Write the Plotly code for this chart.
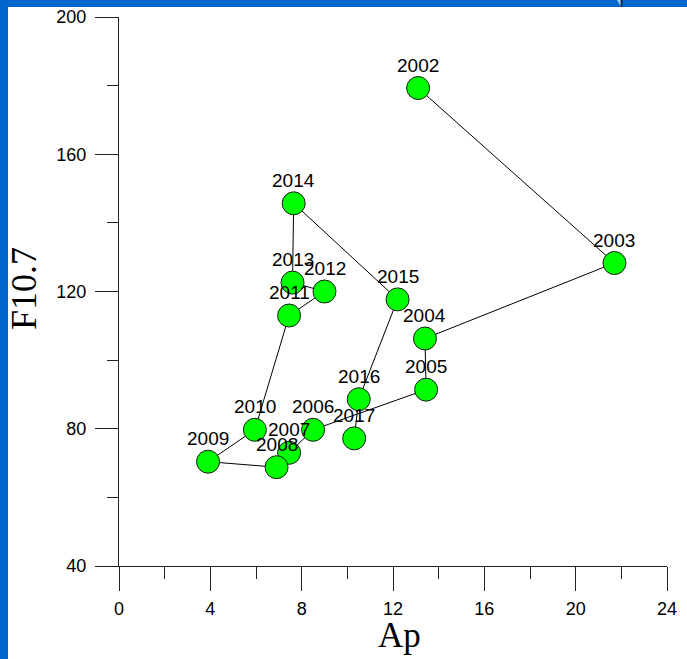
import plotly.graph_objects as go

years = ["2002", "2003", "2004", "2005", "2006", "2007", "2008", "2009",
         "2010", "2011", "2012", "2013", "2014", "2015", "2016", "2017"]
ap = [13.1, 21.7, 13.4, 13.45, 8.5, 7.45, 6.9, 3.9,
      5.95, 7.45, 9.0, 7.6, 7.65, 12.2, 10.5, 10.3]
f107 = [179.3, 128.3, 106.3, 91.4, 79.7, 73.0, 68.8, 70.4,
        79.7, 113.0, 120.0, 122.6, 145.7, 117.7, 88.6, 77.2]

x_ticks = [0, 4, 8, 12, 16, 20, 24]
y_ticks = [40, 80, 120, 160, 200]

W, H = 687, 659
L, R, T, B = 119, 667, 17, 566

fig = go.Figure()
fig.add_trace(go.Scatter(
    x=ap, y=f107,
    mode="lines+markers",
    line=dict(color="black", width=1),
    marker=dict(size=23, color="#00ff00", line=dict(color="#1a1a1a", width=1)),
    cliponaxis=False,
    showlegend=False,
    hoverinfo="skip",
))

axis_common = dict(
    showgrid=False, zeroline=False, showline=True, linecolor="#222222", linewidth=1.3,
    ticks="outside", tickcolor="#222222", tickwidth=1.3, automargin=False,
    tickfont=dict(family="Liberation Sans, Arial", size=18, color="black"),
)
fig.update_xaxes(range=[0, 24], tickvals=x_ticks, ticklen=24, ticklabelstandoff=2,
                 minor=dict(dtick=2, ticklen=12, ticks="outside", tickcolor="#222222", tickwidth=1.3),
                 **axis_common)
fig.update_yaxes(range=[40, 200], tickvals=y_ticks, ticklen=23, ticklabelstandoff=5,
                 minor=dict(dtick=20, ticklen=11, ticks="outside", tickcolor="#222222", tickwidth=1.3),
                 **axis_common)

def px_x(p):
    return (p - L) / (R - L)

def px_y(p):
    return (B - p) / (B - T)

year_labels = [
    dict(text=yr, x=xv, y=yv, xref="x", yref="y", showarrow=False,
         xanchor="center", yanchor="middle", yshift=23,
         font=dict(family="Liberation Sans, Arial", size=19, color="black"))
    for yr, xv, yv in zip(years, ap, f107)
]

fig.update_layout(
    width=W, height=H, autosize=False,
    margin=dict(l=L, r=W - R, t=T, b=H - B),
    paper_bgcolor="white", plot_bgcolor="white",
    hovermode=False,
    shapes=[
        dict(type="rect", xref="paper", yref="paper", layer="above",
             x0=px_x(-5), x1=px_x(W + 5), y0=px_y(7), y1=px_y(-5),
             fillcolor="#0066cc", line=dict(width=0)),
        dict(type="rect", xref="paper", yref="paper", layer="above",
             x0=px_x(-5), x1=px_x(8), y0=px_y(H + 5), y1=px_y(-5),
             fillcolor="#0066cc", line=dict(width=0)),
        dict(type="path", xref="paper", yref="paper", layer="above",
             path="M %f,%f L %f,%f L %f,%f Z" % (px_x(617), px_y(0), px_x(621), px_y(0), px_x(621), px_y(7)),
             fillcolor="#9fd0f5", line=dict(width=0)),
        dict(type="line", xref="paper", yref="paper", layer="above",
             x0=px_x(621.5), x1=px_x(621.5), y0=px_y(0), y1=px_y(7),
             line=dict(color="#0a2a55", width=2)),
    ],
    annotations=year_labels + [
        dict(text="Ap", xref="paper", yref="paper", x=px_x(399), y=px_y(635),
             xanchor="center", yanchor="middle", showarrow=False,
             font=dict(family="Liberation Serif, Times New Roman", size=35, color="black")),
        dict(text="F10.7", xref="paper", yref="paper", x=px_x(24), y=px_y(289),
             xanchor="center", yanchor="middle", showarrow=False, textangle=-90,
             font=dict(family="Liberation Serif, Times New Roman", size=36, color="black")),
    ],
)

fig.write_html("out.html", config={"displayModeBar": False},
               post_script="document.body.style.margin='0';document.body.style.overflow='hidden';")
